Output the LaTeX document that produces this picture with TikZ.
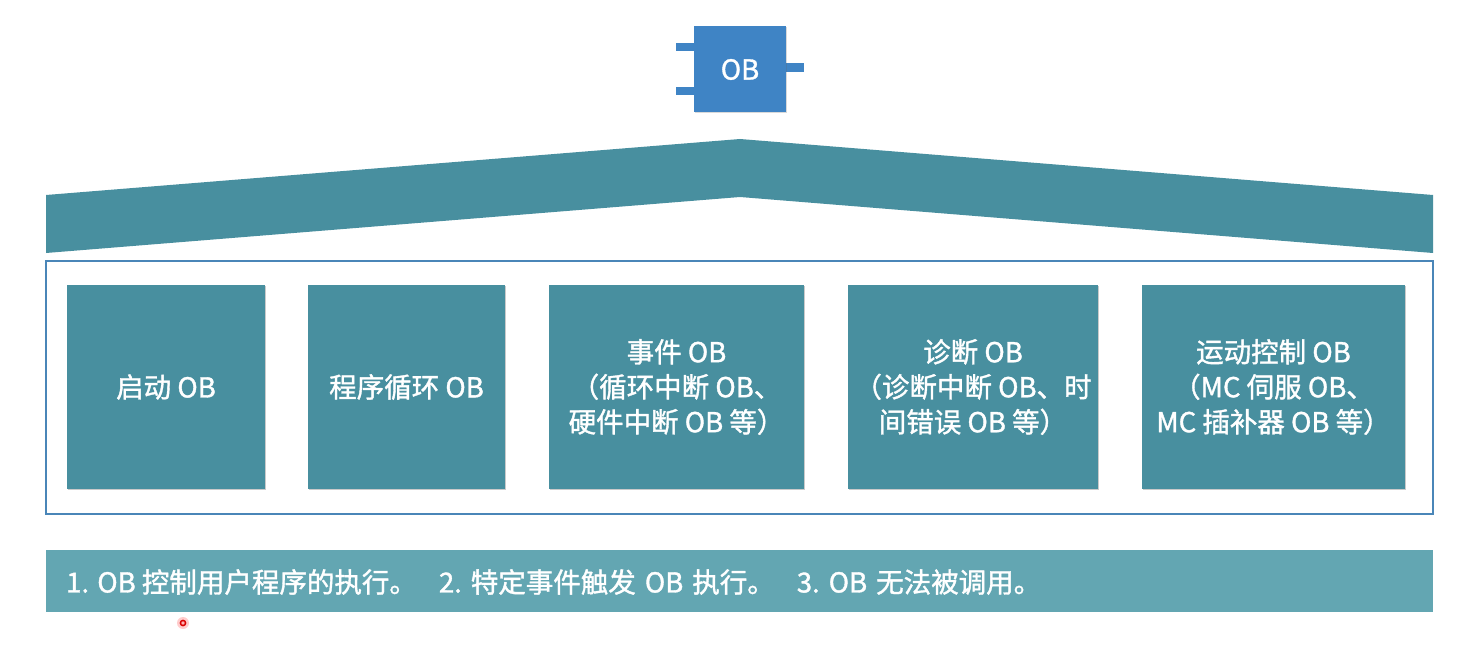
\documentclass[tikz,border=0pt]{standalone}
\usepackage{fontspec}
\setmainfont{Noto Sans CJK SC}[FakeBold=1.3]
\usetikzlibrary{shadows}
\definecolor{obblue}{HTML}{3F84C5}
\definecolor{teal}{HTML}{488F9F}
\definecolor{barcol}{HTML}{63A6B2}
\definecolor{framecol}{HTML}{4A86B8}
\tikzset{
  obbox/.style={fill=teal, minimum height=204pt, inner sep=0pt, text=white,
    align=center, font=\fontsize{27.5}{35}\selectfont,
    drop shadow={shadow xshift=0.8pt, shadow yshift=-0.8pt, opacity=0.35, fill=black!60}},
}
\newcommand\wsp{\hspace{9pt}}
\begin{document}
\begin{tikzpicture}[x=1pt,y=-1pt]
\useasboundingbox (0,0) rectangle (1476,650);
% OB block
\fill[obblue] (676,43) rectangle (694,51);
\fill[obblue] (676,87) rectangle (694,95);
\fill[obblue] (786,63) rectangle (804,72);
\node[fill=obblue, minimum width=92pt, minimum height=86pt, inner sep=0pt, text=white,
  font=\fontsize{27.5}{30}\selectfont,
  drop shadow={shadow xshift=0.6pt, shadow yshift=-0.6pt, opacity=0.25, fill=black!60}] (ob) at (740,69.5) {OB};
% roof
\fill[teal] (46,195) -- (740,139) -- (1433,195) -- (1433,253) -- (740,197) -- (46,253) -- cycle;
% frame
\node[draw=framecol, line width=1.5pt, minimum width=1387pt, minimum height=253pt, inner sep=0pt] (frame) at (739.5,387.5) {};
% boxes
\node[obbox, minimum width=198pt] (b1) at (166,387) {启动 OB};
\node[obbox, minimum width=197pt] (b2) at (406.5,387) {程序循环 OB};
\node[obbox, minimum width=255pt] (b3) at (676.5,387) {事件 OB\\（循环中断 OB、\\硬件中断 OB 等）};
\node[obbox, minimum width=250pt] (b4) at (973,387) {诊断 OB\\（诊断中断 OB、时\\间错误 OB 等）};
\node[obbox, minimum width=263pt] (b5) at (1273.5,387) {运动控制 OB\\（MC 伺服 OB、\\MC 插补器 OB 等）};
% bottom bar
\node[fill=barcol, minimum width=1387pt, minimum height=62pt, inner sep=0pt] (bar) at (739.5,581) {};
\node[anchor=west, text=white, inner sep=0pt, font=\fontsize{27.5}{30}\selectfont] (bartext) at (66,582)
  {1. OB 控制用户程序的执行。\hspace{22pt}2.\wsp 特定事件触发\wsp OB\wsp 执行。\hspace{22pt}3.\wsp OB\wsp 无法被调用。};
% cursor mark
\fill[red!20] (183,623) circle (6);
\draw[red!85!black, line width=1.5pt, fill=red!30] (183,623) circle (2.6);
\end{tikzpicture}
\end{document}
